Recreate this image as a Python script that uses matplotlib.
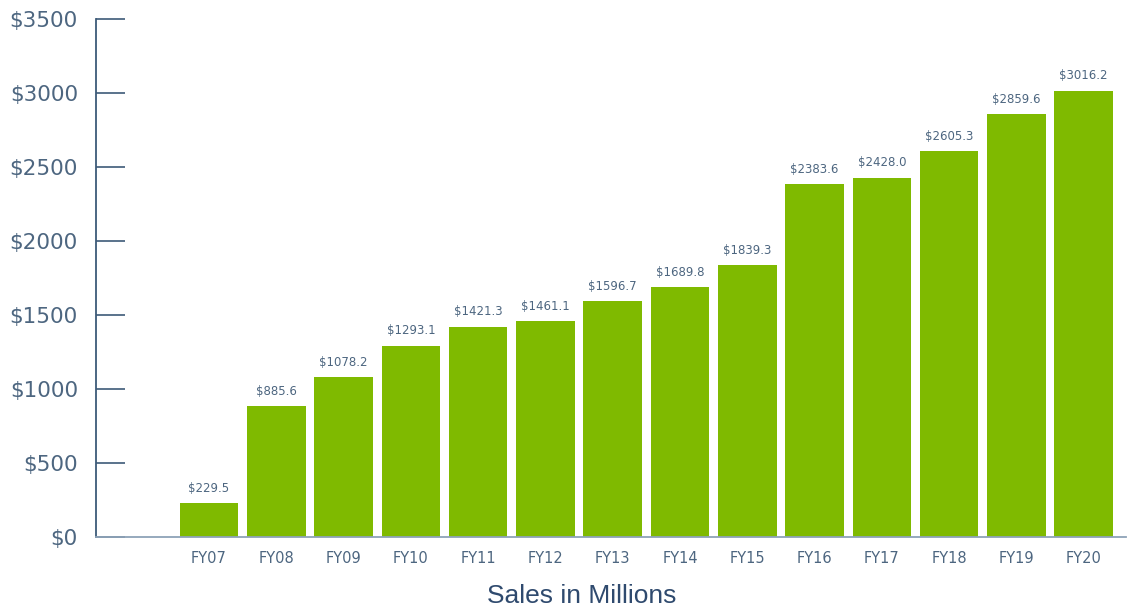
import numpy as np
import matplotlib
matplotlib.use("Agg")
import matplotlib.pyplot as plt

years = ["FY07", "FY08", "FY09", "FY10", "FY11", "FY12", "FY13",
         "FY14", "FY15", "FY16", "FY17", "FY18", "FY19", "FY20"]
sales = [229.5, 885.6, 1078.2, 1293.1, 1421.3, 1461.1, 1596.7,
         1689.8, 1839.3, 2383.6, 2428.0, 2605.3, 2859.6, 3016.2]
y_ticks = [0, 500, 1000, 1500, 2000, 2500, 3000, 3500]

bar_color = "#7fba00"
text_color = "#4d6680"
spine_color = "#3d5a78"

fig = plt.figure(figsize=(11.27, 6.08), dpi=100)
ax = fig.add_axes([0.0852, 0.1168, 0.914, 0.852])

x = np.arange(len(years))
bars = ax.bar(x, sales, width=0.87, color=bar_color)

# value labels on top of each bar
for xi, v in zip(x, sales):
    ax.text(xi, v + 55, f"${v:.1f}", ha="center", va="bottom",
            fontsize=8.5, color=text_color)

ax.set_xlim(-1.68, 13.63)
ax.set_ylim(0, 3500)
ax.set_yticks(y_ticks)
ax.set_yticklabels([f"${t}" for t in y_ticks], fontsize=15.5, color=text_color)
ax.set_xticks(x)
ax.set_xticklabels(years, fontsize=10.5, color=text_color)

ax.tick_params(axis="y", direction="in", length=21, width=1.2,
               color=spine_color, pad=13)
ax.tick_params(axis="x", length=0, pad=10)

for s in ["top", "right"]:
    ax.spines[s].set_visible(False)
ax.spines["left"].set_color(spine_color)
ax.spines["left"].set_linewidth(1.3)
ax.spines["bottom"].set_color("#8ea3b8")
ax.spines["bottom"].set_linewidth(1.3)

fig.text(0.516, 0.0, "Sales in Millions", ha="center", va="bottom",
         fontsize=19, color="#2f4a6e", family="Liberation Sans")

fig.savefig("out.png", dpi=100)
